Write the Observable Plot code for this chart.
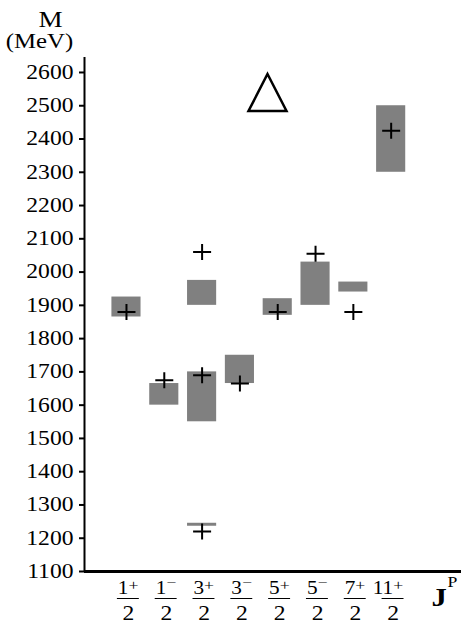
<!DOCTYPE html>
<html>
<head>
<meta charset="utf-8">
<script src="https://cdn.jsdelivr.net/npm/d3@7"></script>
<script src="https://cdn.jsdelivr.net/npm/@observablehq/plot@0.6"></script>
<style>
  html, body { margin: 0; padding: 0; background: #fff; }
  #chart svg { display: block; }
  #chart g[aria-label="y-axis tick"] { stroke-width: 2; }
</style>
</head>
<body>
<div id="chart"></div>
<script>
// ---- data ----
const categories   = ["1/2+", "1/2-", "3/2+", "3/2-", "5/2+", "5/2-", "7/2+", "11/2+"];
const numerators   = ["1", "1", "3", "3", "5", "5", "7", "11"];
const parities     = ["+", "−", "+", "−", "+", "−", "+", "+"];
const denominators = ["2", "2", "2", "2", "2", "2", "2", "2"];

// experimental mass ranges (grey boxes)
const boxJP   = ["1/2+", "1/2-", "3/2+", "3/2+", "3/2+", "3/2-", "5/2+", "5/2-", "7/2+", "11/2+"];
const boxLow  = [1865, 1600, 1900, 1550, 1236, 1665, 1870, 1900, 1940, 2300];
const boxHigh = [1925, 1665, 1975, 1700, 1245, 1750, 1920, 2030, 1970, 2500];

// predicted masses (crosses)
const predJP   = ["1/2+", "1/2-", "3/2+", "3/2+", "3/2+", "3/2-", "5/2+", "5/2-", "7/2+", "11/2+"];
const predMass = [1880, 1675, 2060, 1690, 1220, 1665, 1880, 2055, 1880, 2425];

const yTicks = [1100, 1200, 1300, 1400, 1500, 1600, 1700, 1800, 1900, 2000, 2100, 2200, 2300, 2400, 2500, 2600];
const yMax = 2645;
const yName = "M";
const yUnit = "(MeV)";
const xName = "J";
const xNameSup = "P";
const familyName = "Δ";

// ---- build ----
const idx = new Map(categories.map((c, i) => [c, i]));
const xDomain = [-1.11, categories.length - 1 + 1.86];
const HALF = 0.385;

const boxes = boxJP.map((c, i) => ({i: idx.get(c), lo: boxLow[i], hi: boxHigh[i]}));
const preds = predJP.map((c, i) => ({i: idx.get(c), m: predMass[i]}));
const labels = categories.map((c, i) => ({i, num: numerators[i], sign: parities[i], den: denominators[i]}));

const crossSymbol = {
  draw(ctx) {
    ctx.moveTo(-9, 0); ctx.lineTo(9, 0);
    ctx.moveTo(0, -8); ctx.lineTo(0, 8);
  }
};
const triangleSymbol = {
  draw(ctx) {
    ctx.moveTo(0, -18.5);
    ctx.lineTo(19, 18.5);
    ctx.lineTo(-19, 18.5);
    ctx.closePath();
  }
};

const serif = "\"Liberation Serif\", \"Times New Roman\", serif";

const plot = Plot.plot({
  width: 461,
  height: 624,
  marginLeft: 84,
  marginRight: 0,
  marginTop: 57,
  marginBottom: 53,
  style: {fontFamily: serif, fontSize: "20px", color: "black", background: "white", overflow: "visible"},
  x: {type: "linear", domain: xDomain, axis: null},
  y: {domain: [yTicks[0], yMax], ticks: yTicks, tickSize: 5, tickPadding: 6, label: null, tickFormat: d => String(d)},
  marks: [
    Plot.rectY(boxes, {x1: d => d.i - HALF, x2: d => d.i + HALF, y1: "lo", y2: "hi", fill: "#808080"}),
    Plot.dot(preds, {x: "i", y: "m", symbol: crossSymbol, stroke: "black", strokeWidth: 2, fill: "none"}),
    Plot.ruleX([xDomain[0]], {stroke: "black", strokeWidth: 2}),
    Plot.ruleY([yTicks[0]], {stroke: "black", strokeWidth: 3}),
    // fraction tick labels
    Plot.text(labels, {x: "i", text: "num", frameAnchor: "bottom", textAnchor: "end", lineAnchor: "bottom", dx: 2, dy: 22, fontSize: 18, fill: "black"}),
    Plot.text(labels, {x: "i", text: "sign", frameAnchor: "bottom", textAnchor: "start", lineAnchor: "bottom", dx: 2, fontSize: 15, fill: "black", filter: d => d.sign === "+", dy: 18}),
    Plot.text(labels, {x: "i", text: "sign", frameAnchor: "bottom", textAnchor: "start", lineAnchor: "bottom", dx: 2, fontSize: 15, fill: "black", filter: d => d.sign !== "+", dy: 15}),
    Plot.ruleY(labels, {x1: d => d.i - 0.24, x2: d => d.i + 0.34, y: () => yTicks[0], dy: 27, stroke: "black", strokeWidth: 1}),
    Plot.text(labels, {x: "i", text: "den", frameAnchor: "bottom", textAnchor: "middle", lineAnchor: "bottom", dx: 2, dy: 48, fontSize: 20, fill: "black"}),
    // axis names
    Plot.text([xName], {frameAnchor: "bottom-right", textAnchor: "start", lineAnchor: "bottom", dx: -30, dy: 34, fontSize: 26, fontWeight: "bold", fill: "black"}),
    Plot.text([xNameSup], {frameAnchor: "bottom-right", textAnchor: "start", lineAnchor: "bottom", dx: -14, dy: 15, fontSize: 15, fill: "black"}),
    Plot.text([yName], {frameAnchor: "top-left", textAnchor: "middle", lineAnchor: "bottom", dx: -34, dy: -31, fontSize: 23, fill: "black"}),
    Plot.text([yUnit], {frameAnchor: "top-left", textAnchor: "middle", lineAnchor: "bottom", dx: -45, dy: -10, fontSize: 21, fill: "black"}),
    // family label
    Plot.dot([familyName], {frameAnchor: "top-left", dx: 183, dy: 35, symbol: triangleSymbol, stroke: "black", strokeWidth: 2.5, fill: "none"})
  ]
});

// the reference's lettering is horizontally stretched
d3.select(plot).selectAll("text").each(function() {
  const t = d3.select(this);
  const tr = t.attr("transform");
  if (tr) {
    t.attr("transform", tr + " scale(1.18,1)");
  } else {
    const x = +t.attr("x") || 0, y = +t.attr("y") || 0;
    t.attr("x", null).attr("y", null).attr("transform", `translate(${x},${y}) scale(1.18,1)`);
  }
});

document.getElementById("chart").appendChild(plot);
</script>
</body>
</html>
